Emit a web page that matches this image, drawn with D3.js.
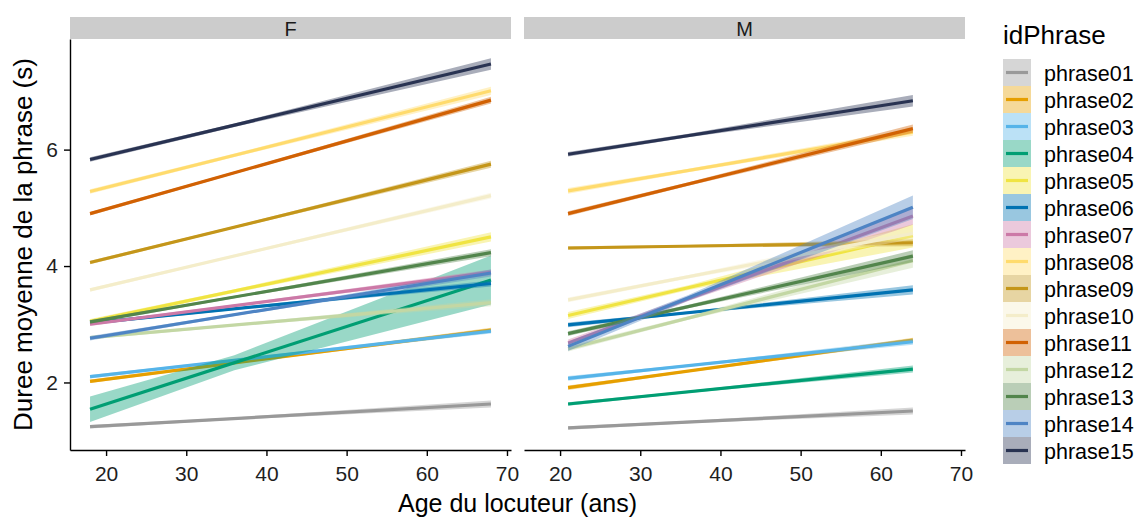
<!DOCTYPE html>
<html>
  <head>
    <meta charset="UTF-8">
    <title>Duree moyenne de la phrase</title>
    <script src="https://d3js.org/d3.v7.min.js"></script>
    <style>
      body { margin: 0; background: #fff; }
      svg text { font-family: "Liberation Sans", Arial, sans-serif; }
    </style>
  </head>
  <body>
    <svg id="chart" width="1140" height="520"></svg>
    <script>
      // data
      const phrases = ["phrase01", "phrase02", "phrase03", "phrase04", "phrase05",
        "phrase06", "phrase07", "phrase08", "phrase09", "phrase10",
        "phrase11", "phrase12", "phrase13", "phrase14", "phrase15"];
      const colors = ["#999999", "#E69F00", "#56B4E9", "#009E73", "#F0E442",
        "#0072B2", "#CC79A7", "#FFDB6D", "#C4961A", "#F4EDCA",
        "#D16103", "#C3D7A4", "#52854C", "#4E84C4", "#293352"];
      const panels = ["F", "M"];
      // age at start, narrowest point of the band, end
      const agesF = [18, 36, 68];
      const agesM = [21, 36, 64];
      // fitted duration at first and last age
      const fitF = [[1.24, 1.63], [2.02, 2.9], [2.1, 2.88], [1.54, 3.76], [3.05, 4.5],
        [3.02, 3.7], [3.0, 3.89], [5.28, 7.01], [4.06, 5.75], [3.59, 5.21],
        [4.9, 6.85], [2.77, 3.37], [3.04, 4.23], [2.76, 3.88], [5.83, 7.47]];
      const fitM = [[1.22, 1.51], [1.91, 2.73], [2.07, 2.7], [1.63, 2.23], [3.15, 4.52],
        [2.99, 3.59], [2.68, 4.86], [5.29, 6.3], [4.31, 4.4], [3.42, 4.56],
        [4.9, 6.36], [2.58, 4.09], [2.84, 4.17], [2.62, 5.01], [5.92, 6.84]];
      // half width of the confidence band at start, neck, end
      const bandF = [[0.03, 0.02, 0.06], [0.03, 0.02, 0.04], [0.03, 0.02, 0.04], [0.22, 0.13, 0.42], [0.04, 0.03, 0.08],
        [0.03, 0.02, 0.05], [0.03, 0.02, 0.05], [0.04, 0.03, 0.07], [0.03, 0.02, 0.06], [0.03, 0.02, 0.05],
        [0.03, 0.02, 0.06], [0.03, 0.02, 0.06], [0.03, 0.02, 0.06], [0.04, 0.02, 0.06], [0.04, 0.03, 0.1]];
      const bandM = [[0.03, 0.02, 0.06], [0.04, 0.02, 0.04], [0.04, 0.02, 0.05], [0.03, 0.02, 0.06], [0.06, 0.04, 0.2],
        [0.04, 0.02, 0.08], [0.06, 0.04, 0.15], [0.05, 0.03, 0.06], [0.03, 0.02, 0.06], [0.04, 0.03, 0.1],
        [0.04, 0.03, 0.07], [0.05, 0.03, 0.12], [0.04, 0.03, 0.1], [0.08, 0.05, 0.2], [0.04, 0.03, 0.1]];
      const xTicks = [20, 30, 40, 50, 60, 70];
      const yTicks = [2, 4, 6];

      const svg = d3.select("#chart");
      const plotTop = 39, plotBottom = 450;
      const panelX = [[70, 511], [524, 965]];

      const y = d3.scaleLinear().domain([0.84, 7.9]).range([plotBottom, plotTop]);

      svg.append("defs").selectAll("clipPath")
        .data(panelX)
        .join("clipPath")
        .attr("id", (d, i) => "clip" + i)
        .append("rect")
        .attr("x", d => d[0]).attr("y", plotTop)
        .attr("width", d => d[1] - d[0]).attr("height", plotBottom - plotTop);

      panels.forEach((p, pi) => {
        const x = d3.scaleLinear().domain([15.5, 70.5]).range(panelX[pi]);
        const ages = pi === 0 ? agesF : agesM;
        const fit = pi === 0 ? fitF : fitM;
        const band = pi === 0 ? bandF : bandM;

        // strip
        svg.append("rect")
          .attr("x", panelX[pi][0]).attr("y", 17)
          .attr("width", panelX[pi][1] - panelX[pi][0]).attr("height", 22)
          .attr("fill", "#cccccc");
        svg.append("text")
          .attr("x", (panelX[pi][0] + panelX[pi][1]) / 2).attr("y", 36)
          .attr("text-anchor", "middle").attr("font-size", 20)
          .attr("fill", "#1a1a1a").text(p);

        const g = svg.append("g").attr("clip-path", `url(#clip${pi})`);

        phrases.forEach((ph, i) => {
          const [y0, y1] = fit[i];
          const fitAt = a => y0 + (y1 - y0) * (a - ages[0]) / (ages[2] - ages[0]);
          const pts = ages.map((a, k) => ({ a: a, v: fitAt(a), w: band[i][k] }));
          const area = d3.area()
            .x(d => x(d.a))
            .y0(d => y(d.v - d.w))
            .y1(d => y(d.v + d.w));
          g.append("path")
            .attr("d", area(pts))
            .attr("fill", colors[i]).attr("fill-opacity", 0.4);
          g.append("line")
            .attr("x1", x(ages[0])).attr("y1", y(y0))
            .attr("x2", x(ages[2])).attr("y2", y(y1))
            .attr("stroke", colors[i]).attr("stroke-width", 3.2);
        });

        const xAxis = svg.append("g")
          .attr("transform", `translate(0,${plotBottom})`)
          .call(d3.axisBottom(x).tickValues(xTicks).tickSize(6).tickSizeOuter(0));
        xAxis.select(".domain").attr("stroke", "#000").attr("stroke-width", 1.4);
        xAxis.selectAll(".tick line").attr("stroke", "#000").attr("stroke-width", 1.4);
        xAxis.selectAll("text").attr("font-size", 21).attr("fill", "#1e1e1e")
          .attr("font-family", "Liberation Sans, Arial, sans-serif")
          .attr("y", 16).attr("dy", "0.71em");
      });

      const yAxis = svg.append("g")
        .attr("transform", `translate(${panelX[0][0]},0)`)
        .call(d3.axisLeft(y).tickValues(yTicks).tickFormat(d3.format("d")).tickSize(6).tickSizeOuter(0));
      yAxis.select(".domain").attr("stroke", "#000").attr("stroke-width", 1.4);
      yAxis.selectAll(".tick line").attr("stroke", "#000").attr("stroke-width", 1.4);
      yAxis.selectAll("text").attr("font-size", 21).attr("fill", "#1e1e1e")
        .attr("font-family", "Liberation Sans, Arial, sans-serif").attr("x", -12);

      // axis titles
      svg.append("text")
        .attr("x", (panelX[0][0] + panelX[1][1]) / 2).attr("y", 512)
        .attr("text-anchor", "middle").attr("font-size", 25).attr("fill", "#000")
        .text("Age du locuteur (ans)");
      svg.append("text")
        .attr("transform", `translate(32,${(plotTop + plotBottom) / 2}) rotate(-90)`)
        .attr("text-anchor", "middle").attr("font-size", 26).attr("fill", "#000")
        .text("Duree moyenne de la phrase (s)");

      // legend
      const legend = svg.append("g").attr("transform", "translate(1003,59)");
      legend.append("text")
        .attr("x", 0).attr("y", -15).attr("font-size", 26).attr("fill", "#000")
        .text("idPhrase");
      const key = legend.selectAll(".key")
        .data(phrases)
        .join("g")
        .attr("class", "key")
        .attr("transform", (d, i) => `translate(0,${i * 27})`);
      key.append("rect")
        .attr("width", 28).attr("height", 27)
        .attr("fill", (d, i) => colors[i]).attr("fill-opacity", 0.4);
      key.append("line")
        .attr("x1", 3).attr("x2", 25).attr("y1", 13.5).attr("y2", 13.5)
        .attr("stroke", (d, i) => colors[i]).attr("stroke-width", 3.2);
      key.append("text")
        .attr("x", 41).attr("y", 21.5).attr("font-size", 21.5).attr("fill", "#000")
        .text(d => d);
    </script>
  </body>
</html>
